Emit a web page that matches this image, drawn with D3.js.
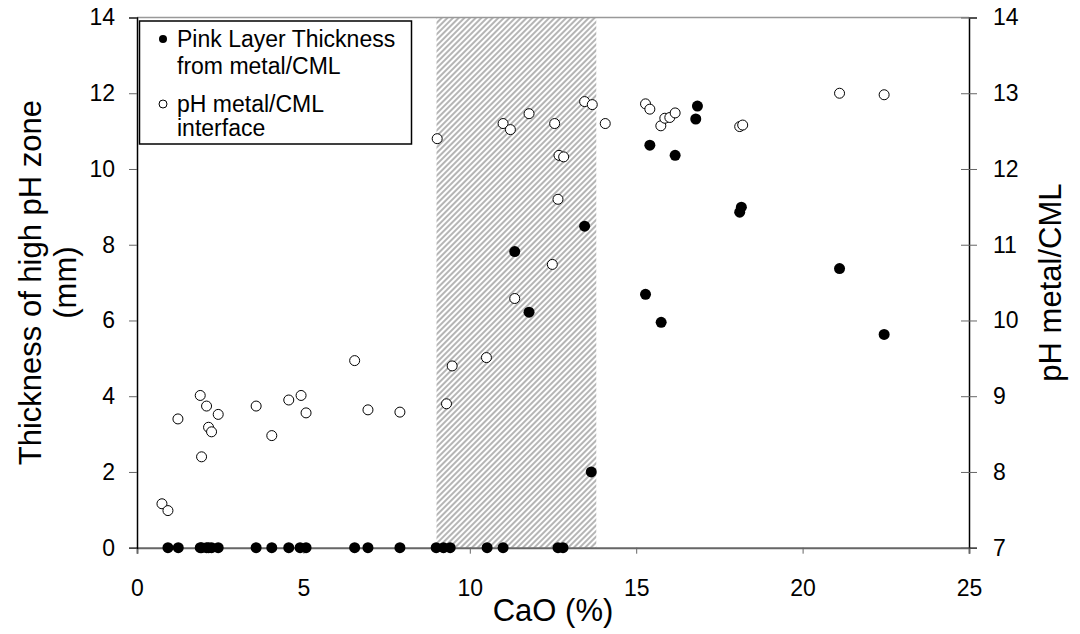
<!DOCTYPE html>
<html>
<head>
<meta charset="utf-8">
<script src="https://cdn.jsdelivr.net/npm/d3@7"></script>
<style>
  body { margin: 0; background: #fff; }
  svg { font-family: "Liberation Sans", Arial, sans-serif; }
</style>
</head>
<body>
<svg id="chart"></svg>
<script>
// Pink layer thickness (left axis, mm) vs CaO
var thickCaO = [0.93, 1.24, 1.90, 1.94, 2.09, 2.15, 2.24, 2.44, 3.58, 4.05, 4.56, 4.90, 5.08, 6.54, 6.94, 7.90,
  8.99, 9.21, 9.41, 10.52, 11.0, 12.65, 12.80,
  13.65, 11.35, 11.78, 13.45, 15.28, 15.75, 15.41, 16.17, 16.84, 16.79, 18.16, 18.11, 21.11, 22.45];
var thickVal = [0, 0, 0, 0, 0, 0, 0, 0, 0, 0, 0, 0, 0, 0, 0, 0,
  0, 0, 0, 0, 0, 0, 0,
  2.0, 7.82, 6.22, 8.49, 6.69, 5.95, 10.63, 10.36, 11.66, 11.32, 8.99, 8.86, 7.37, 5.63];

// pH at metal/CML interface (right axis) vs CaO
var phCaO = [0.75, 0.93, 1.23, 1.90, 1.94, 2.09, 2.15, 2.24, 2.44, 3.58, 4.05, 4.56, 4.93, 5.08, 6.54, 6.94, 7.90,
  9.30, 9.47, 10.50, 11.35, 12.48, 12.65, 9.02, 11.0, 11.22, 11.78, 12.55, 13.45, 13.68, 14.07, 12.68, 12.82,
  15.28, 15.41, 15.74, 15.86, 16.01, 16.17, 18.11, 18.20, 21.11, 22.45];
var phVal = [7.58, 7.49, 8.70, 9.01, 8.20, 8.87, 8.59, 8.53, 8.76, 8.87, 8.48, 8.95, 9.01, 8.78, 9.47, 8.82, 8.79,
  8.90, 9.40, 9.51, 10.29, 10.74, 11.60, 12.40, 12.60, 12.52, 12.73, 12.60, 12.89, 12.85, 12.60, 12.18, 12.16,
  12.86, 12.79, 12.57, 12.67, 12.68, 12.74, 12.56, 12.58, 13.0, 12.98];

// shaded CaO band
var bandRange = [9.0, 13.8];

var xTicks = [0, 5, 10, 15, 20, 25];
var yLeftTicks = [0, 2, 4, 6, 8, 10, 12, 14];
var yRightTicks = [7, 8, 9, 10, 11, 12, 13, 14];

var width = 1080, height = 634;
var plotLeft = 137, plotRight = 969, plotTop = 17.5, plotBottom = 547.7;

var svg = d3.select("#chart").attr("width", width).attr("height", height);

var x = d3.scaleLinear().domain([0, 25]).range([plotLeft, plotRight]);
var yL = d3.scaleLinear().domain([0, 14]).range([plotBottom, plotTop]);
var yR = d3.scaleLinear().domain([7, 14]).range([plotBottom, plotTop]);

// hatch pattern
var pat = svg.append("defs").append("pattern")
  .attr("id", "hatch")
  .attr("patternUnits", "userSpaceOnUse")
  .attr("width", 4).attr("height", 4)
  .attr("patternTransform", "rotate(45)");
pat.append("rect").attr("width", 4).attr("height", 4).attr("fill", "#fff");
pat.append("line")
  .attr("x1", 1).attr("y1", 0).attr("x2", 1).attr("y2", 4)
  .attr("stroke", "#a8a8a8").attr("stroke-width", 1.7);

svg.append("rect")
  .attr("x", x(bandRange[0]))
  .attr("y", plotTop)
  .attr("width", x(bandRange[1]) - x(bandRange[0]))
  .attr("height", plotBottom - plotTop)
  .attr("fill", "url(#hatch)");

// top border
svg.append("line")
  .attr("x1", plotLeft).attr("x2", plotRight).attr("y1", plotTop).attr("y2", plotTop)
  .attr("stroke", "#999").attr("stroke-width", 1.5);

// x axis
var xAxis = svg.append("g")
  .attr("transform", "translate(0," + plotBottom + ")")
  .call(d3.axisBottom(x).tickValues(xTicks).tickSize(6).tickPadding(26));
xAxis.select(".domain").attr("stroke", "#666").attr("stroke-width", 2);
xAxis.selectAll(".tick line").attr("stroke", "#666");
xAxis.selectAll("text").attr("font-size", 23).attr("fill", "#000");

// left axis
var yAxisL = svg.append("g")
  .attr("transform", "translate(" + plotLeft + ",0)")
  .call(d3.axisLeft(yL).tickValues(yLeftTicks).tickSize(8).tickPadding(14));
yAxisL.select(".domain").attr("stroke", "#000").attr("stroke-width", 1.5);
yAxisL.selectAll(".tick line").attr("stroke", "#666");
yAxisL.selectAll("text").attr("font-size", 23).attr("fill", "#000");

// right axis, ticks cross the line
var yAxisR = svg.append("g")
  .attr("transform", "translate(" + plotRight + ",0)")
  .call(d3.axisRight(yR).tickValues(yRightTicks).tickFormat(d3.format("d")).tickSize(8).tickPadding(16));
yAxisR.select(".domain").attr("stroke", "#000").attr("stroke-width", 1.5);
yAxisR.selectAll(".tick line").attr("x1", -8).attr("stroke", "#666");
yAxisR.selectAll("text").attr("font-size", 23).attr("fill", "#000");

// pH points (open)
svg.append("g").selectAll("circle")
  .data(phCaO)
  .join("circle")
  .attr("cx", function(d) { return x(d); })
  .attr("cy", function(d, i) { return yR(phVal[i]); })
  .attr("r", 5)
  .attr("fill", "#fff")
  .attr("stroke", "#000")
  .attr("stroke-width", 1);

// thickness points (filled)
svg.append("g").selectAll("circle")
  .data(thickCaO)
  .join("circle")
  .attr("cx", function(d) { return x(d); })
  .attr("cy", function(d, i) { return yL(thickVal[i]); })
  .attr("r", 5.5)
  .attr("fill", "#000");

// axis titles
svg.append("text")
  .attr("x", x(12.5)).attr("y", 621)
  .attr("text-anchor", "middle")
  .attr("font-size", 31)
  .text("CaO (%)");

var lt = svg.append("text")
  .attr("transform", "translate(41," + ((plotTop + plotBottom) / 2) + ") rotate(-90)")
  .attr("text-anchor", "middle")
  .attr("font-size", 31);
lt.append("tspan").attr("x", 0).attr("dy", 0).text("Thickness of high pH zone");
lt.append("tspan").attr("x", 0).attr("dy", 35).text("(mm)");

svg.append("text")
  .attr("transform", "translate(1061," + ((plotTop + plotBottom) / 2) + ") rotate(-90)")
  .attr("text-anchor", "middle")
  .attr("font-size", 31)
  .text("pH metal/CML");

// legend
var lg = svg.append("g");
lg.append("rect")
  .attr("x", 139.5).attr("y", 21).attr("width", 272).attr("height", 123)
  .attr("fill", "#fff").attr("stroke", "#000").attr("stroke-width", 1.5);
lg.append("circle").attr("cx", 163).attr("cy", 39).attr("r", 4).attr("fill", "#000");
lg.append("circle").attr("cx", 163).attr("cy", 104).attr("r", 4)
  .attr("fill", "#fff").attr("stroke", "#000").attr("stroke-width", 1);
var legendLines = [["Pink Layer Thickness", 47], ["from metal/CML", 74], ["pH metal/CML", 112], ["interface", 136]];
legendLines.forEach(function(l) {
  lg.append("text").attr("x", 177).attr("y", l[1]).attr("font-size", 23).text(l[0]);
});
</script>
</body>
</html>
